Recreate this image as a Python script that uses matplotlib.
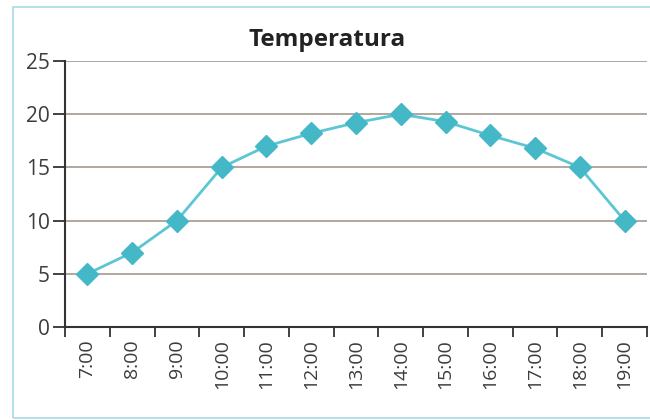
import numpy as np
import matplotlib
matplotlib.use("Agg")
import matplotlib.pyplot as plt
from matplotlib.patches import Rectangle

# Dados
horas = ["7:00", "8:00", "9:00", "10:00", "11:00", "12:00", "13:00",
         "14:00", "15:00", "16:00", "17:00", "18:00", "19:00"]
temperatura = [5, 7, 10, 15, 17, 18.2, 19.2, 20, 19.3, 18, 16.8, 15, 10]
y_ticks = [0, 5, 10, 15, 20, 25]

plt.rcParams['font.family'] = ['Open Sans', 'DejaVu Sans']

cor_linha = '#5cc6d3'
cor_marcador = '#45b8c8'
cor_grade = '#aaa198'
cor_eixo = '#333333'
cor_texto = '#3c3c3c'

fig = plt.figure(figsize=(6.5, 4.2), dpi=100)
fig.patch.set_facecolor('white')

# moldura azul clara em volta do gráfico (lado direito cortado)
fig.add_artist(Rectangle((13 / 650, 2 / 420), 660 / 650, 411 / 420,
                         transform=fig.transFigure, fill=False,
                         edgecolor='#a9d9e6', linewidth=1.2))

ax = fig.add_axes([65 / 650, 1 - 327 / 420, 582 / 650, 266 / 420])

x = np.arange(len(horas))
ax.plot(x, temperatura, color=cor_linha, linewidth=2, zorder=3)
ax.plot(x, temperatura, linestyle='none', marker='D', markersize=11,
        color=cor_marcador, markeredgecolor=cor_marcador, zorder=4)

ax.set_xlim(-0.5, len(horas) - 0.5)
ax.set_ylim(0, 25)

ax.set_yticks(y_ticks)
ax.set_yticklabels([str(v) for v in y_ticks], fontsize=15, color=cor_texto)
ax.tick_params(axis='y', direction='out', length=9, width=1.3,
               color=cor_eixo, pad=2)

# rótulos no centro das categorias, marcas nas divisões
ax.set_xticks(x)
ax.set_xticklabels(horas, rotation=90, fontsize=14, color=cor_texto,
                   va='top', ha='center')
ax.tick_params(axis='x', which='major', length=0, pad=9)
ax.set_xticks(np.arange(-0.5, len(horas)), minor=True)
ax.tick_params(axis='x', which='minor', direction='out', length=7,
               width=1.3, color=cor_eixo)

for v in y_ticks[1:]:
    ax.axhline(v, color=cor_grade, linewidth=1.3, zorder=1)

for lado in ['top', 'right']:
    ax.spines[lado].set_visible(False)
for lado in ['left', 'bottom']:
    ax.spines[lado].set_color(cor_eixo)
    ax.spines[lado].set_linewidth(1.5)

fig.text(327 / 650, 1 - 40 / 420, 'Temperatura', ha='center', va='center',
         fontsize=17.5, fontweight='bold', color='#222222')

fig.savefig('out.png', dpi=100, facecolor='white')
